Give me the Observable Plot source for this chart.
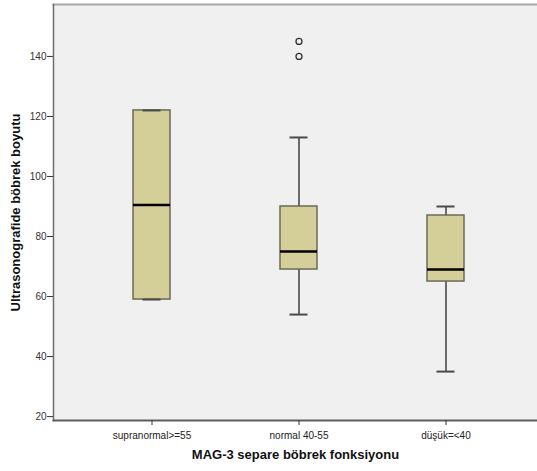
<!DOCTYPE html>
<html><head><meta charset="utf-8">
<script src="https://cdn.jsdelivr.net/npm/d3@7"></script>
<script src="https://cdn.jsdelivr.net/npm/@observablehq/plot@0.6"></script>
<style>body{margin:0;background:#fff}</style>
</head><body><div id="chart"></div>
<script>
const groups = ["supranormal>=55", "normal 40-55", "düşük=<40"];
const lowWhisker = [59, 54, 35];
const q1 = [59, 69, 65];
const medians = [90.5, 75, 69];
const q3 = [122, 90, 87];
const highWhisker = [122, 113, 90];
const outlierGroups = ["normal 40-55", "normal 40-55"];
const outlierValues = [145, 140];
const yTicks = [20, 40, 60, 80, 100, 120, 140];
const yLabel = "Ultrasonografide böbrek boyutu";
const xLabel = "MAG-3 separe böbrek fonksiyonu";

const boxes = groups.map((g, i) => ({g, lo: lowWhisker[i], q1: q1[i], med: medians[i], q3: q3[i], hi: highWhisker[i]}));
const outliers = outlierGroups.map((g, i) => ({g, v: outlierValues[i]}));

const chart = Plot.plot({
  width: 537, height: 471,
  marginLeft: 53, marginRight: 0, marginTop: 4, marginBottom: 51,
  style: {fontFamily: "'Liberation Sans', Arial, sans-serif", background: "#fff", color: "#222"},
  x: {type: "band", domain: groups, range: [132.5, 464.5], paddingInner: 0.749, paddingOuter: 0, align: 0.5},
  y: {domain: [18.7, 157.3]},
  marks: [
    Plot.frame({fill: "#f0f0f0", stroke: null}),
    Plot.frame({anchor: "top", stroke: "#a8a8a8", strokeWidth: 2}),
    Plot.frame({anchor: "left", stroke: "#6e6e6e", strokeWidth: 1.5}),
    Plot.frame({anchor: "bottom", stroke: "#5e5e5e", strokeWidth: 2}),
    Plot.axisY({ticks: yTicks, tickSize: 6, tickPadding: 1, fontSize: 10, label: null, fill: "#333", stroke: "#333"}),
    Plot.axisX({tickSize: 5, tickPadding: 6, fontSize: 10, label: null, fill: "#222", stroke: "#333"}),
    Plot.ruleX(boxes, {x: "g", y1: "q3", y2: "hi", stroke: "#4a4a4a", strokeWidth: 1.6}),
    Plot.ruleX(boxes, {x: "g", y1: "lo", y2: "q1", stroke: "#4a4a4a", strokeWidth: 1.6}),
    Plot.rect(boxes, {x: "g", y1: "q1", y2: "q3", fill: "#d4cf98", stroke: "#6a6a58", strokeWidth: 1.5}),
    Plot.tickY(boxes, {x: "g", y: "hi", stroke: "#4a4a4a", strokeWidth: 2, insetLeft: 9.5, insetRight: 9.5}),
    Plot.tickY(boxes, {x: "g", y: "lo", stroke: "#4a4a4a", strokeWidth: 2, insetLeft: 9.5, insetRight: 9.5}),
    Plot.tickY(boxes, {x: "g", y: "med", stroke: "#000", strokeWidth: 2.5}),
    Plot.dot(outliers, {x: "g", y: "v", r: 3, stroke: "#333", strokeWidth: 1.3, fill: "#f0f0f0"}),
    Plot.text([yLabel], {frameAnchor: "left", textAnchor: "middle", rotate: -90, dx: -38, fontSize: 13, fontWeight: "bold", fill: "#111"}),
    Plot.text([xLabel], {frameAnchor: "bottom", dy: 38, fontSize: 13, fontWeight: "bold", fill: "#111"})
  ]
});
document.getElementById("chart").appendChild(chart);
</script>
</body></html>
